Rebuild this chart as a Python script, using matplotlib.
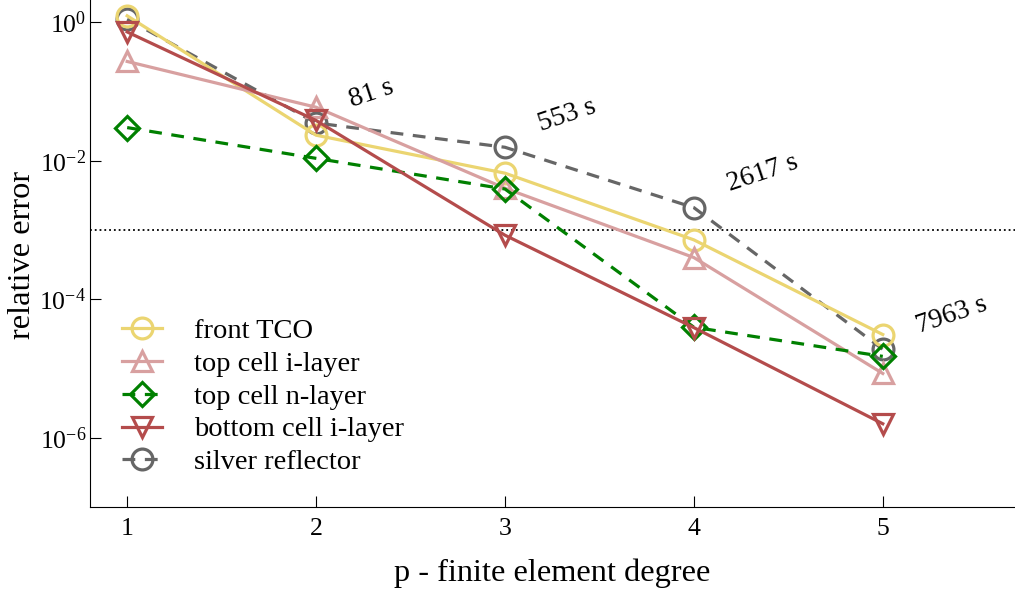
import numpy as np
import matplotlib
matplotlib.use("Agg")
import matplotlib.pyplot as plt

plt.rcParams['font.family'] = ['Liberation Serif', 'DejaVu Serif']
plt.rcParams['mathtext.fontset'] = 'custom'
plt.rcParams['mathtext.rm'] = 'Liberation Serif'
plt.rcParams['mathtext.it'] = 'Liberation Serif:italic'

degree = [1, 2, 3, 4, 5]

front_tco = [1.23, 0.0233, 0.0066, 7.2e-4, 3.1e-5]
top_i = [0.27, 0.059, 0.0040, 4.0e-4, 8.5e-6]
top_n = [0.030, 0.0108, 0.0039, 3.95e-5, 1.5e-5]
bottom_i = [0.72, 0.038, 8.4e-4, 3.9e-5, 1.6e-6]
silver = [1.1, 0.035, 0.0156, 0.0021, 1.9e-5]

timings = ["81 s", "553 s", "2617 s", "7963 s"]
tol = 1e-3

fig = plt.figure(figsize=(10.15, 5.96), dpi=100)
ax = fig.add_axes([0.089, 0.149, 0.911, 0.851])

style = dict(lw=2.3, ms=15, mew=2.3, mfc='none')
ax.plot(degree, front_tco, '-o', color='#ebd571', label='front TCO', zorder=3, **style)
ax.plot(degree, top_i, '-^', color='#d8a0a0', label='top cell i-layer', zorder=3, **style)
ax.plot(degree, top_n, '--D', color='#008000', label='top cell n-layer',
        dashes=(4, 3), lw=2.3, ms=12, mew=2.3, mfc='none', zorder=3)
ax.plot(degree, bottom_i, '-v', color='#b44c4c', label='bottom cell i-layer', zorder=3, **style)
ax.plot(degree, silver, '--o', color='#666666', label='silver reflector',
        dashes=(4, 3), zorder=2, **style)

ax.axhline(tol, color='black', ls=':', lw=1.3)

# solve times next to the silver reflector points
for p, txt in zip(degree[1:], timings):
    ax.annotate(txt, (p, silver[degree.index(p)]), xytext=(27.5, 7.7),
                textcoords='offset points', fontsize=20, rotation=18.5,
                ha='left', va='bottom', rotation_mode='anchor')

ax.set_yscale('log')
ax.set_xlim(0.805, 5.70)
ax.set_ylim(1e-7, 2.08)
ax.set_xticks(degree)
ax.set_yticks([1e0, 1e-2, 1e-4, 1e-6])
ax.minorticks_off()
ax.tick_params(direction='in', length=8, labelsize=18.5, pad=8)
ax.tick_params(axis='y', pad=3)
for s in ['top', 'right']:
    ax.spines[s].set_visible(False)
ax.set_xlabel('p - finite element degree', fontsize=23.3, labelpad=13)
ax.set_ylabel('relative error', fontsize=23.3)
ax.yaxis.set_label_coords(-0.058, 0.497)

ax.legend(loc='lower left', bbox_to_anchor=(0.007, 0.0125), frameon=False,
          fontsize=20.5, handlelength=1.4, handletextpad=1.1, labelspacing=0.24)

fig.savefig('out.png', dpi=100)
